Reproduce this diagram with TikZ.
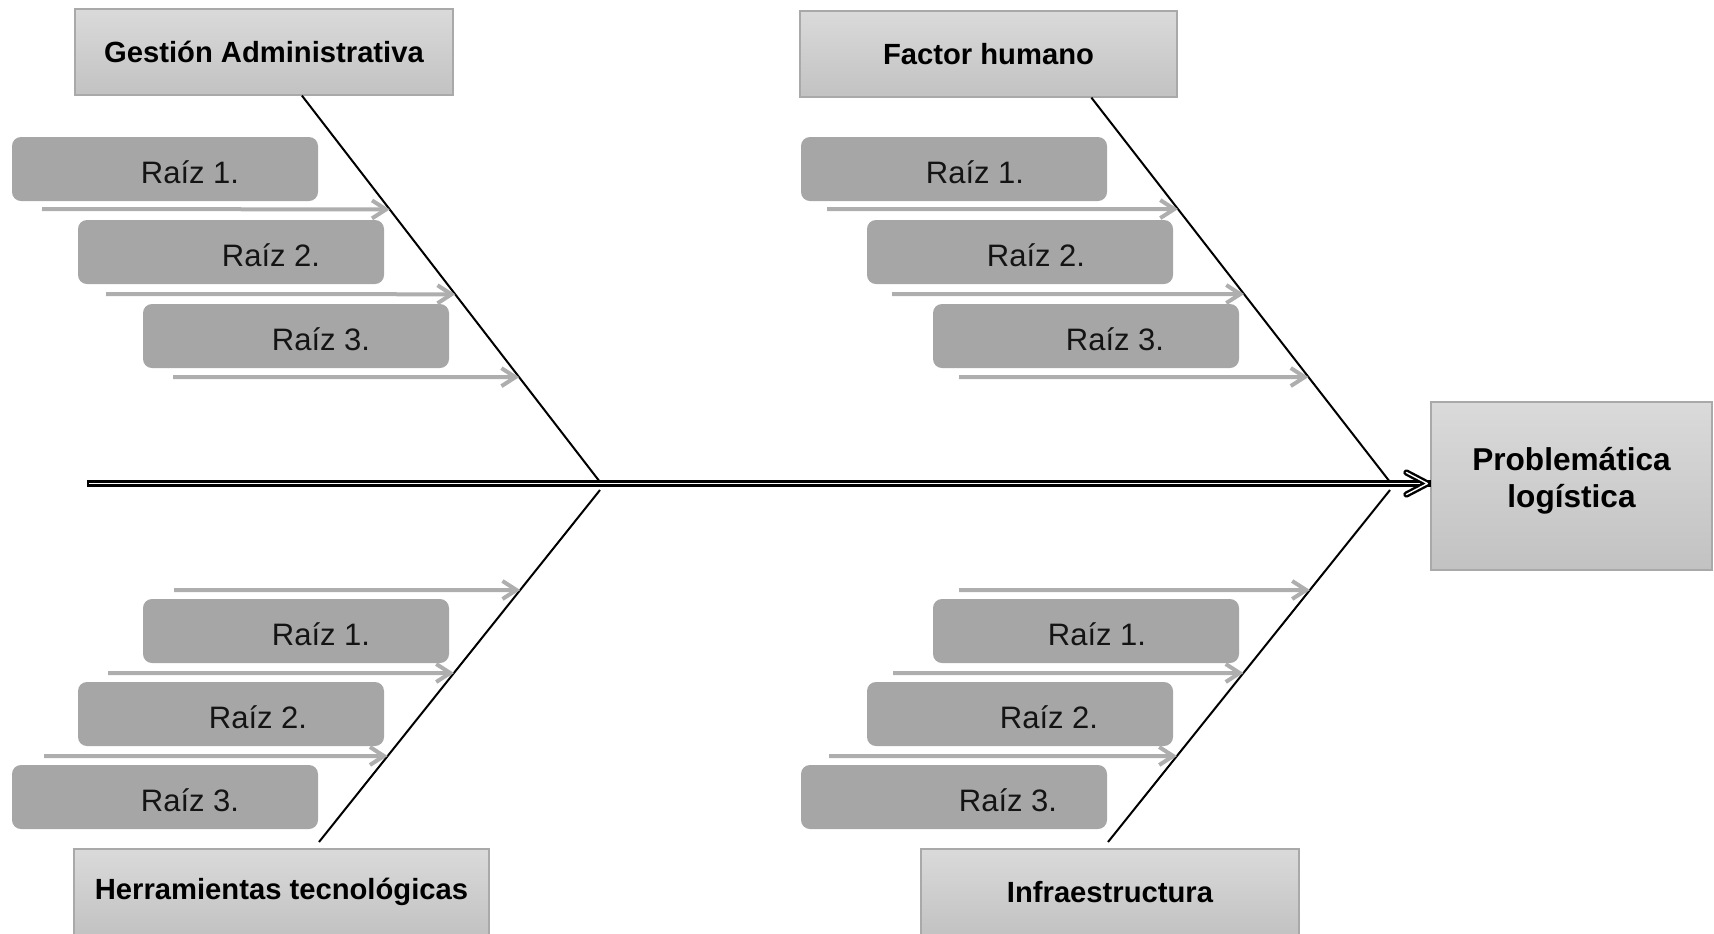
\documentclass[tikz,border=0pt]{standalone}
\usepackage{fontspec}
\setmainfont{Liberation Sans}
\usetikzlibrary{calc,arrows.meta}
\definecolor{catTop}{HTML}{DADADA}
\definecolor{catBot}{HTML}{C2C2C2}
\definecolor{catEdge}{HTML}{A9A9A9}
\definecolor{rootFill}{HTML}{A6A6A6}
\definecolor{rootArrow}{HTML}{AEAEAE}
% one root cause: name, left x, top y, text centre x, label
\newcommand\raizbox[5]{%
  \node[rootbox] (#1) at (#2+153,#3+32) {};
  \node[roottext] (#1-t) at (#4,#3+35) {#5};
}
\begin{document}
\begin{tikzpicture}[x=0.5pt,y=-0.5pt,
  catbox/.style={rectangle, draw=catEdge, line width=0.6pt,
    top color=catTop, bottom color=catBot,
    font=\fontsize{14.6pt}{17pt}\selectfont\bfseries,
    inner sep=0pt, minimum height=43pt},
  rootbox/.style={rectangle, rounded corners=4.5pt, fill=rootFill,
    minimum width=153pt, minimum height=32pt, inner sep=0pt},
  roottext/.style={font=\fontsize{15.5pt}{18pt}\selectfont, text=black!92, inner sep=0pt},
  bone/.style={draw=black, line width=1pt},
  spine/.style={draw=black, double=white, double distance=0.7pt, line width=1.2pt},
  rootarrow/.style={draw=rootArrow, line width=2pt,
    -{Straight Barb[length=7pt,width=9pt]}},
]
\useasboundingbox (0,0) rectangle (1714,933);

% category boxes and the effect
\node[catbox, minimum width=189pt] (gest) at (264,52) {Gestión Administrativa};
\node[catbox, minimum width=188.5pt] (fact) at (988.5,54) {Factor humano};
\node[catbox, minimum width=207.5pt] (herr) at (281.5,892) {Herramientas tecnológicas};
\node[catbox, minimum width=189pt] (infra) at (1110,892) {Infraestructura};
\node[catbox, minimum width=140.5pt, minimum height=84pt] (prob) at (1571.5,486) {};
\node[align=center, inner sep=0pt,
  font=\fontsize{15.8pt}{18.5pt}\selectfont\bfseries] (prob-t) at (1571.5,480.5)
  {Problemática\\logística};

% root cause boxes
\raizbox{rTL1}{12}{137}{190}{Raíz 1.}
\raizbox{rTL2}{78}{220}{271}{Raíz 2.}
\raizbox{rTL3}{143}{304}{321}{Raíz 3.}
\raizbox{rTR1}{801}{137}{975}{Raíz 1.}
\raizbox{rTR2}{867}{220}{1036}{Raíz 2.}
\raizbox{rTR3}{933}{304}{1115}{Raíz 3.}
\raizbox{rBL1}{143}{599}{321}{Raíz 1.}
\raizbox{rBL2}{78}{682}{258}{Raíz 2.}
\raizbox{rBL3}{12}{765}{190}{Raíz 3.}
\raizbox{rBR1}{933}{599}{1097}{Raíz 1.}
\raizbox{rBR2}{867}{682}{1049}{Raíz 2.}
\raizbox{rBR3}{801}{765}{1008}{Raíz 3.}

% bone end points
\coordinate (tail) at (90,483.5);
\coordinate (jTL) at (600,482);
\coordinate (jBL) at (600,490);
\coordinate (jTR) at (1390,482);
\coordinate (jBR) at (1390,490);
\coordinate (gTL) at ($(gest.south west)!0.6!(gest.south east)$);
\coordinate (gTR) at ($(fact.south west)!0.772!(fact.south east)$);
\coordinate (gBL) at (319,842);
\coordinate (gBR) at (1108,842);

% main bones
\draw[bone] (gTL) -- (jTL);
\draw[bone] (gTR) -- (jTR);
\draw[bone] (jBL) -- (gBL);
\draw[bone] (jBR) -- (gBR);

% spine with its open head
\coordinate (tip) at ($(tail -| prob.west)+(-3,0)$);
\draw[spine, line cap=rect] (tail) -- (tip);
\draw[spine, line cap=round, line join=round]
  ($(tip)+(-21,-11)$) -- (tip) -- ($(tip)+(-21,11)$);

% root arrows: tails and heads on the bones
\coordinate (aTL1) at (42,209);
\coordinate (aTL2) at (106,294);
\coordinate (aTL3) at (173,377);
\coordinate (pTL1) at ($(gTL)!{(209-95)/387}!(jTL)$);
\coordinate (pTL2) at ($(gTL)!{(294-95)/387}!(jTL)$);
\coordinate (pTL3) at ($(gTL)!{(377-95)/387}!(jTL)$);
\coordinate (aTR1) at (827,209);
\coordinate (aTR2) at (892,294);
\coordinate (aTR3) at (959,377);
\coordinate (pTR1) at ($(gTR)!{(209-97.5)/384.5}!(jTR)$);
\coordinate (pTR2) at ($(gTR)!{(294-97.5)/384.5}!(jTR)$);
\coordinate (pTR3) at ($(gTR)!{(377-97.5)/384.5}!(jTR)$);
\coordinate (aBL1) at (174,590);
\coordinate (aBL2) at (108,673);
\coordinate (aBL3) at (44,756);
\coordinate (pBL1) at ($(jBL)!{(590-490)/352}!(gBL)$);
\coordinate (pBL2) at ($(jBL)!{(673-490)/352}!(gBL)$);
\coordinate (pBL3) at ($(jBL)!{(756-490)/352}!(gBL)$);
\coordinate (aBR1) at (959,590);
\coordinate (aBR2) at (893,673);
\coordinate (aBR3) at (829,756);
\coordinate (pBR1) at ($(jBR)!{(590-490)/352}!(gBR)$);
\coordinate (pBR2) at ($(jBR)!{(673-490)/352}!(gBR)$);
\coordinate (pBR3) at ($(jBR)!{(756-490)/352}!(gBR)$);

\foreach \s in {TL,TR,BL,BR}{
  \foreach \k in {1,2,3}{
    \draw[rootarrow] (a\s\k) -- (p\s\k);
  }
}
\end{tikzpicture}
\end{document}
